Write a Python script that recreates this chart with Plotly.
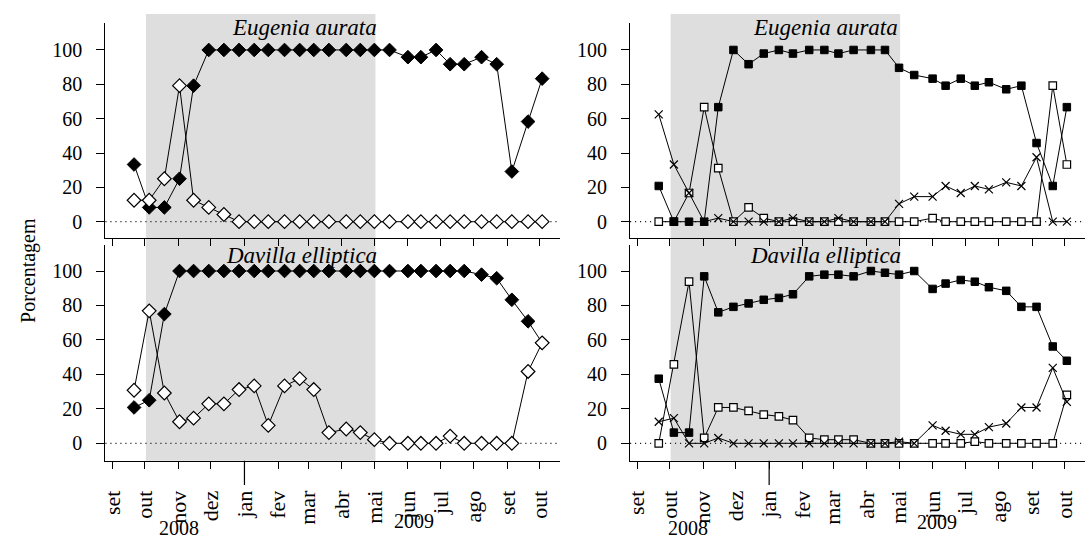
import plotly.graph_objects as go

# Sampling dates (roughly fortnightly)
dates = ["2008-09-21", "2008-10-05", "2008-10-19", "2008-11-02", "2008-11-15", "2008-11-29",
         "2008-12-13", "2008-12-27", "2009-01-10", "2009-01-23", "2009-02-07", "2009-02-21",
         "2009-03-06", "2009-03-20", "2009-04-05", "2009-04-18", "2009-05-01", "2009-05-15",
         "2009-06-01", "2009-06-13", "2009-06-27", "2009-07-10", "2009-07-23", "2009-08-08",
         "2009-08-22", "2009-09-05", "2009-09-20", "2009-10-03"]

# Left column (diamonds)
eugenia_filled_diamond = [33.3, 8.3, 8.3, 25.0, 79.2, 100, 100, 100, 100, 100, 100, 100, 100, 100,
                          100, 100, 100, 100, 95.8, 95.8, 100, 91.7, 91.7, 95.8, 91.7, 29.2, 58.3, 83.3]
eugenia_open_diamond = [12.5, 12.5, 25.0, 79.2, 12.5, 8.3, 4.2, 0, 0, 0, 0, 0, 0, 0,
                        0, 0, 0, 0, 0, 0, 0, 0, 0, 0, 0, 0, 0, 0]
davilla_filled_diamond = [20.8, 25.0, 75.0, 100, 100, 100, 100, 100, 100, 100, 100, 100, 100, 100,
                          100, 100, 100, 100, 100, 100, 100, 100, 100, 97.9, 95.8, 83.3, 70.8, 58.3]
davilla_open_diamond = [30.8, 76.9, 29.2, 12.5, 14.6, 22.9, 22.9, 31.2, 33.3, 10.4, 33.3, 37.5, 31.2, 6.2,
                        8.3, 6.2, 2.1, 0, 0, 0, 0, 4.2, 0, 0, 0, 0, 41.7, 58.3]

# Right column (squares and crosses)
eugenia_filled_sq = [20.8, 0, 0, 0, 66.7, 100, 91.7, 97.9, 100, 97.9, 100, 100, 97.9, 100,
                     100, 100, 89.6, 85.4, 83.3, 79.2, 83.3, 79.2, 81.2, 77.1, 79.2, 45.8, 20.8, 66.7]
eugenia_open_sq = [0, 0, 16.7, 66.7, 31.2, 0, 8.3, 2.1, 0, 0, 0, 0, 0, 0,
                   0, 0, 0, 0, 2.1, 0, 0, 0, 0, 0, 0, 0, 79.2, 33.3]
eugenia_cross = [62.5, 33.3, 16.7, 0, 2.1, 0, 0, 0, 0, 2.1, 0, 0, 2.1, 0,
                 0, 0, 10.4, 14.6, 14.6, 20.8, 16.7, 20.8, 18.8, 22.9, 20.8, 37.5, 0, 0]
davilla_filled_sq = [37.5, 6.2, 6.2, 96.9, 76.0, 79.2, 81.2, 83.3, 84.4, 86.5, 96.9, 97.9, 97.9, 96.9,
                     100, 99.0, 97.9, 100, 89.6, 92.7, 94.8, 93.8, 90.6, 88.5, 79.2, 79.2, 56.2, 47.9]
davilla_open_sq = [0, 45.8, 93.8, 3.1, 20.8, 20.8, 18.8, 16.7, 15.6, 13.5, 3.1, 2.1, 2.1, 2.1,
                   0, 0, 0, 0, 0, 0, 0, 1.0, 0, 0, 0, 0, 0, 28.1]
davilla_cross = [12.5, 14.6, 0, 0, 3.1, 0, 0, 0, 0, 0, 0, 0, 0, 0,
                 0, 0, 1.0, 0, 10.4, 7.3, 5.2, 5.2, 9.4, 11.5, 20.8, 20.8, 43.8, 24.0]

month_ticks = ["2008-09-01", "2008-10-01", "2008-11-01", "2008-12-01", "2009-01-01", "2009-02-01",
               "2009-03-01", "2009-04-01", "2009-05-01", "2009-06-01", "2009-07-01", "2009-08-01",
               "2009-09-01", "2009-10-01"]
month_labels = ["set", "out", "nov", "dez", "jan", "fev", "mar", "abr", "mai", "jun", "jul",
                "ago", "set", "out"]
y_ticks = [0, 20, 40, 60, 80, 100]
species = ["Eugenia aurata", "Davilla elliptica"]
shade_period = ["2008-10-02", "2009-05-02"]

W, H = 1087, 540
FONT = "Liberation Serif"
x_range = ["2008-08-25 14:00", "2009-10-19 10:00"]


def px(x):
    return x / W


def py(y):
    return 1 - y / H


fig = go.Figure()

line = dict(color="black", width=1)
filled_diamond = dict(symbol="diamond", size=10.5, color="black", line=dict(color="black", width=1))
open_diamond = dict(symbol="diamond", size=10.5, color="white", line=dict(color="black", width=1.2))
filled_sq = dict(symbol="square", size=7.5, color="black", line=dict(color="black", width=1))
open_sq = dict(symbol="square", size=7.5, color="white", line=dict(color="black", width=1.2))
cross = dict(symbol="x-thin", size=8, color="black", line=dict(color="black", width=1.2))


def add(xa, ya, values, marker):
    fig.add_trace(go.Scatter(x=dates, y=values, mode="lines+markers", line=line,
                             marker=marker, xaxis=xa, yaxis=ya, showlegend=False,
                             hoverinfo="x+y"))


# left column
add("x", "y", eugenia_filled_diamond, filled_diamond)
add("x", "y", eugenia_open_diamond, open_diamond)
add("x3", "y3", davilla_filled_diamond, filled_diamond)
add("x3", "y3", davilla_open_diamond, open_diamond)
# right column
add("x2", "y2", eugenia_open_sq, open_sq)
add("x2", "y2", eugenia_filled_sq, filled_sq)
add("x2", "y2", eugenia_cross, cross)
add("x4", "y4", davilla_open_sq, open_sq)
add("x4", "y4", davilla_filled_sq, filled_sq)
add("x4", "y4", davilla_cross, cross)

left_dom = [px(100), px(557)]
right_dom = [px(627.6), px(1084.6)]
top_dom = [py(238), py(23)]
bot_dom = [py(460.7), py(245)]

xcommon = dict(type="date", range=x_range, tickmode="array", tickvals=month_ticks,
               ticktext=month_labels, ticks="outside", ticklen=7, tickwidth=1.2,
               tickcolor="black", showline=True, linecolor="black", linewidth=1.3,
               showgrid=False, zeroline=False, fixedrange=True)
ycommon = dict(tickmode="array", tickvals=y_ticks, ticks="outside", ticklen=8, tickwidth=1.2,
               tickcolor="black", showline=True, linecolor="black", linewidth=1.3,
               showgrid=False, zeroline=False, ticklabelstandoff=10,
               tickfont=dict(family=FONT, size=20, color="black"))
month_font = dict(family=FONT, size=22, color="black")

fig.update_layout(
    width=W, height=H, margin=dict(l=0, r=0, t=0, b=0),
    paper_bgcolor="white", plot_bgcolor="rgba(0,0,0,0)",
    font=dict(family=FONT, color="black"),
    xaxis=dict(xcommon, domain=left_dom, anchor="y", showticklabels=False),
    xaxis2=dict(xcommon, domain=right_dom, anchor="y2", showticklabels=False),
    xaxis3=dict(xcommon, domain=left_dom, anchor="y3", tickangle=-90,
                tickfont=month_font, ticklabelstandoff=13),
    xaxis4=dict(xcommon, domain=right_dom, anchor="y4", tickangle=-90,
                tickfont=month_font, ticklabelstandoff=13),
    yaxis=dict(ycommon, domain=top_dom, anchor="x", range=[-9.5, 115.7]),
    yaxis2=dict(ycommon, domain=top_dom, anchor="x2", range=[-9.5, 115.7]),
    yaxis3=dict(ycommon, domain=bot_dom, anchor="x3", range=[-10.1, 115.1]),
    yaxis4=dict(ycommon, domain=bot_dom, anchor="x4", range=[-10.1, 115.1]),
)

shapes = []
# dry-season shading spanning both rows of each column
for xa in ["x", "x2"]:
    shapes.append(dict(type="rect", xref=xa, yref="paper", x0=shade_period[0], x1=shade_period[1],
                       y0=py(460.7), y1=py(14), fillcolor="#dedede", line=dict(width=0),
                       layer="below"))
# dotted zero reference lines
for xa, ya in [("x", "y"), ("x2", "y2"), ("x3", "y3"), ("x4", "y4")]:
    shapes.append(dict(type="line", xref=f"{xa} domain", yref=ya, x0=0, x1=1, y0=0, y1=0,
                       line=dict(color="black", width=1.2, dash="1px,4px"), layer="below"))
# longer tick marking the turn of the year
for xa in ["x3", "x4"]:
    shapes.append(dict(type="line", xref=xa, yref="paper", x0="2009-01-01", x1="2009-01-01",
                       y0=py(460.7), y1=py(485), line=dict(color="black", width=1.2)))
fig.update_layout(shapes=shapes)

ann = []
title_font = dict(family=FONT, size=23, color="black", style="italic")
for xr, yc in [(375, 27), (899, 27)]:
    ann.append(dict(text=species[0], x=px(xr), y=py(yc), xref="paper", yref="paper",
                    xanchor="right", yanchor="middle", showarrow=False, font=title_font))
for xr, yc in [(375, 255), (902, 255)]:
    ann.append(dict(text=species[1], x=px(xr), y=py(yc), xref="paper", yref="paper",
                    xanchor="right", yanchor="middle", showarrow=False, font=title_font))
year_font = dict(family=FONT, size=20, color="black")
for text, xc, yc in [("2008", 174, 528), ("2009", 410, 521), ("2008", 686, 528), ("2009", 936, 522)]:
    ann.append(dict(text=text, x=px(xc), y=py(yc), xref="paper", yref="paper",
                    xanchor="center", yanchor="middle", showarrow=False, font=year_font))
ann.append(dict(text="Porcentagem", x=px(22), y=py(270), xref="paper", yref="paper",
                textangle=-90, xanchor="center", yanchor="middle", showarrow=False,
                font=dict(family=FONT, size=20, color="black")))
fig.update_layout(annotations=ann)

fig.write_html("out.html")
